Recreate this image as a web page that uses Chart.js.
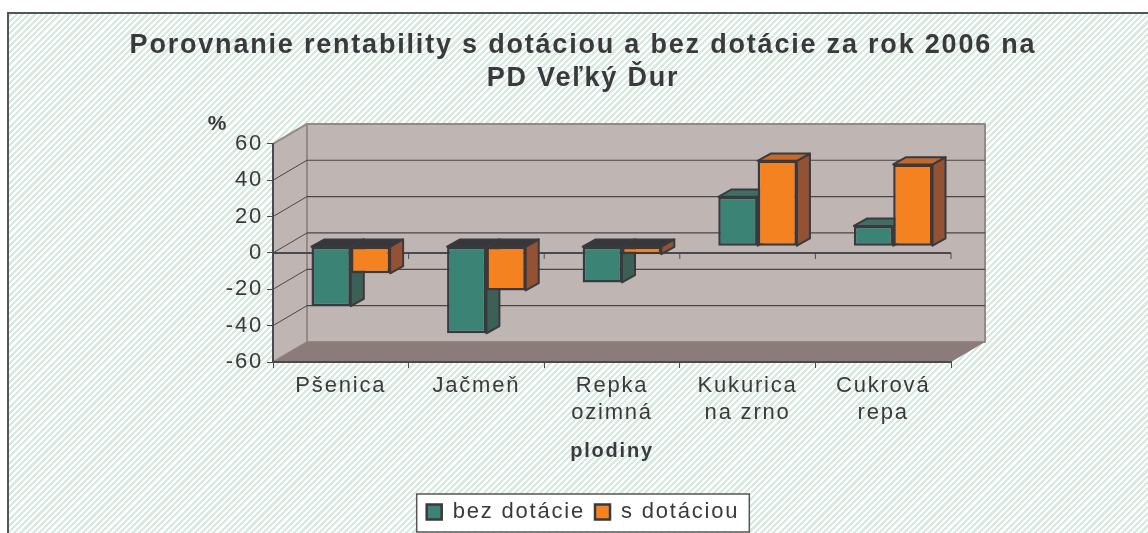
<!DOCTYPE html>
<html>
<head>
<meta charset="utf-8">
<title>Porovnanie rentability</title>
<script src="https://cdn.jsdelivr.net/npm/chart.js@4"></script>
<style>
html, body { margin: 0; padding: 0; background: #fff; overflow: hidden; height: 533px; }
#ram {
    position: absolute; left: 7px; top: 12px; width: 1200px; height: 600px;
    border: 2px solid #555; box-sizing: border-box;
    background: repeating-linear-gradient(135deg, #d6eadf 0, #d6eadf 2.2px, #fff 2.2px, #fff 4.4px);
}
#graf { position: absolute; left: 0; top: 0; }
</style>
</head>
<body>
<div id="ram"></div>
<canvas id="graf" width="1148" height="533"></canvas>
<script>
const plodiny = ['Pšenica', 'Jačmeň', ['Repka', 'ozimná'], ['Kukurica', 'na zrno'], ['Cukrová', 'repa']];
const bezDotacie = [-33, -47.9, -19.9, 27.2, 11.2];
const sDotaciou = [-14.9, -24.3, -4.4, 47, 45];

const tmava = '#3a3a3e';
const hlbkaX = 34, hlbkaY = 20;     // hlbka steny
const posunX = 10, posunY = 6.7;    // stlpce stoja v strede podlahy
const stranaX = 13, stranaY = 7.3;  // bocna strana stlpca
const medzera = '1.8px';            // text v predlohe je roztiahnuty

const farby3d = [
    { bok: '#3c5f56', vrch: '#3f6f63' },
    { bok: '#925233', vrch: '#c2692d' }
];

function poly(ctx, body, vypln, ciara, hrubka) {
    ctx.beginPath();
    body.forEach((b, i) => i ? ctx.lineTo(b[0], b[1]) : ctx.moveTo(b[0], b[1]));
    ctx.closePath();
    ctx.fillStyle = vypln;
    ctx.fill();
    if (ciara) {
        ctx.strokeStyle = ciara;
        ctx.lineWidth = hrubka;
        ctx.lineJoin = 'round';
        ctx.stroke();
    }
}

function usecka(ctx, x1, y1, x2, y2, farba, hrubka) {
    ctx.beginPath();
    ctx.moveTo(x1, y1);
    ctx.lineTo(x2, y2);
    ctx.strokeStyle = farba;
    ctx.lineWidth = hrubka;
    ctx.stroke();
}

const steny = {
    id: 'steny',
    beforeUpdate(chart) {
        chart.ctx.letterSpacing = medzera;
    },
    afterLayout(chart) {
        // nadpis je sirsi ako plocha medzi okrajmi
        chart.titleBlock.left -= 200;
        chart.titleBlock.right += 200;
    },
    beforeDraw(chart) {
        chart.ctx.letterSpacing = medzera;
        const ctx = chart.ctx, a = chart.chartArea, y = chart.scales.y, x = chart.scales.x;
        const hrana = '#958987';
        ctx.save();
        // zadna stena, lava stena, podlaha
        poly(ctx, [[a.left + hlbkaX, a.top - hlbkaY], [a.right + hlbkaX, a.top - hlbkaY], [a.right + hlbkaX, a.bottom - hlbkaY], [a.left + hlbkaX, a.bottom - hlbkaY]], '#bfb5b2', hrana, 2);
        poly(ctx, [[a.left, a.top], [a.left + hlbkaX, a.top - hlbkaY], [a.left + hlbkaX, a.bottom - hlbkaY], [a.left, a.bottom]], '#bfb5b2', hrana, 2);
        poly(ctx, [[a.left, a.bottom], [a.left + hlbkaX, a.bottom - hlbkaY], [a.right + hlbkaX, a.bottom - hlbkaY], [a.right, a.bottom]], '#8b7c79', null);
        y.ticks.forEach(t => {
            if (t.value === 60 || t.value === -60) return;
            const py = y.getPixelForValue(t.value);
            usecka(ctx, a.left, py, a.left + hlbkaX, py - hlbkaY, '#4a4648', 1);
            usecka(ctx, a.left + hlbkaX, py - hlbkaY, a.right + hlbkaX, py - hlbkaY, '#4a4648', 1.2);
        });
        // os pri nule
        const nula = y.getPixelForValue(0);
        usecka(ctx, a.left, nula, a.right, nula, '#4a4a4e', 2);
        for (let i = 0; i <= plodiny.length; i++) {
            const px = x.getPixelForValue(i - 0.5);
            usecka(ctx, px, nula, px, nula + 6, '#4a4a4e', 1);
        }
        ctx.restore();
    },
    afterDraw(chart) {
        const ctx = chart.ctx, a = chart.chartArea;
        ctx.save();
        ctx.font = 'bold 21px "Liberation Sans"';
        ctx.fillStyle = tmava;
        ctx.textAlign = 'center';
        ctx.textBaseline = 'middle';
        ctx.fillText('%', a.left - 55, a.top - 20);
        ctx.restore();
    },
    beforeDatasetsDraw(chart) {
        const ctx = chart.ctx;
        ctx.save();
        ctx.translate(posunX, -posunY);
        chart.data.datasets.forEach((ds, d) => {
            chart.getDatasetMeta(d).data.forEach(bar => {
                const p = bar.getProps(['x', 'y', 'base', 'width'], true);
                const l = p.x - p.width / 2, r = p.x + p.width / 2;
                const top = Math.min(p.y, p.base), bot = Math.max(p.y, p.base);
                const zaporny = p.y > p.base;
                poly(ctx, [[r, top], [r + stranaX, top - stranaY], [r + stranaX, bot - stranaY], [r, bot]], farby3d[d].bok, tmava, 2);
                poly(ctx, [[l, top], [l + stranaX, top - stranaY], [r + stranaX, top - stranaY], [r, top]], zaporny ? '#37363a' : farby3d[d].vrch, tmava, 2);
            });
        });
    },
    afterDatasetsDraw(chart) {
        chart.ctx.restore();
    }
};

// ramcek okolo legendy
const legendaBox = {
    id: 'legendaBox',
    beforeDraw(chart) {
        const boxy = chart.legend.legendHitBoxes;
        const l = boxy[0].left - 10;
        const r = boxy[boxy.length - 1].left + boxy[boxy.length - 1].width + 10;
        const ctx = chart.ctx;
        ctx.save();
        ctx.fillStyle = '#fff';
        ctx.strokeStyle = '#555';
        ctx.lineWidth = 1.5;
        ctx.fillRect(l, 494, r - l, 38);
        ctx.strokeRect(l, 494, r - l, 38);
        ctx.restore();
    }
};

new Chart(document.getElementById('graf').getContext('2d'), {
    type: 'bar',
    data: {
        labels: plodiny,
        datasets: [
            { label: 'bez dotácie', data: bezDotacie, backgroundColor: '#3b8375', borderColor: tmava, borderWidth: 2.5, borderSkipped: false, clip: false },
            { label: 's dotáciou', data: sDotaciou, backgroundColor: '#f58220', borderColor: tmava, borderWidth: 2.5, borderSkipped: false, clip: false }
        ]
    },
    options: {
        responsive: false,
        animation: false,
        layout: { padding: { left: 215, right: 197, top: 0, bottom: 0 } },
        datasets: { bar: { barPercentage: 1, categoryPercentage: 0.58 } },
        plugins: {
            title: {
                display: true,
                text: ['Porovnanie rentability s dotáciou a bez dotácie za rok 2006 na', 'PD Veľký Ďur'],
                color: tmava,
                font: { family: '"Liberation Sans"', size: 27, weight: 'bold', lineHeight: 1.22 },
                padding: { top: 29, bottom: 49 }
            },
            legend: {
                position: 'bottom',
                labels: {
                    color: tmava,
                    font: { family: '"Liberation Sans"', size: 22 },
                    boxWidth: 15, boxHeight: 15, padding: 10
                }
            },
            tooltip: { enabled: false }
        },
        scales: {
            x: {
                grid: { drawOnChartArea: false, color: '#4a4a4e', tickLength: 6 },
                border: { color: '#4a4a4e', width: 2 },
                ticks: { color: tmava, font: { family: '"Liberation Sans"', size: 22, lineHeight: 1.23 }, maxRotation: 0, autoSkip: false, padding: 4 },
                title: { display: true, text: 'plodiny', color: tmava, font: { family: '"Liberation Sans"', size: 20, weight: 'bold' }, padding: { top: 4, bottom: 28 } },
                afterFit(s) { s.height = 129; }
            },
            y: {
                min: -60, max: 60,
                grid: { drawOnChartArea: false, color: '#4a4a4e', tickLength: 6 },
                border: { color: '#4a4a4e', width: 2 },
                ticks: { stepSize: 20, color: tmava, font: { family: '"Liberation Sans"', size: 22 }, padding: 4 },
                afterFit(s) { s.width = 58; }
            }
        }
    },
    plugins: [legendaBox, steny]
});
</script>
</body>
</html>
